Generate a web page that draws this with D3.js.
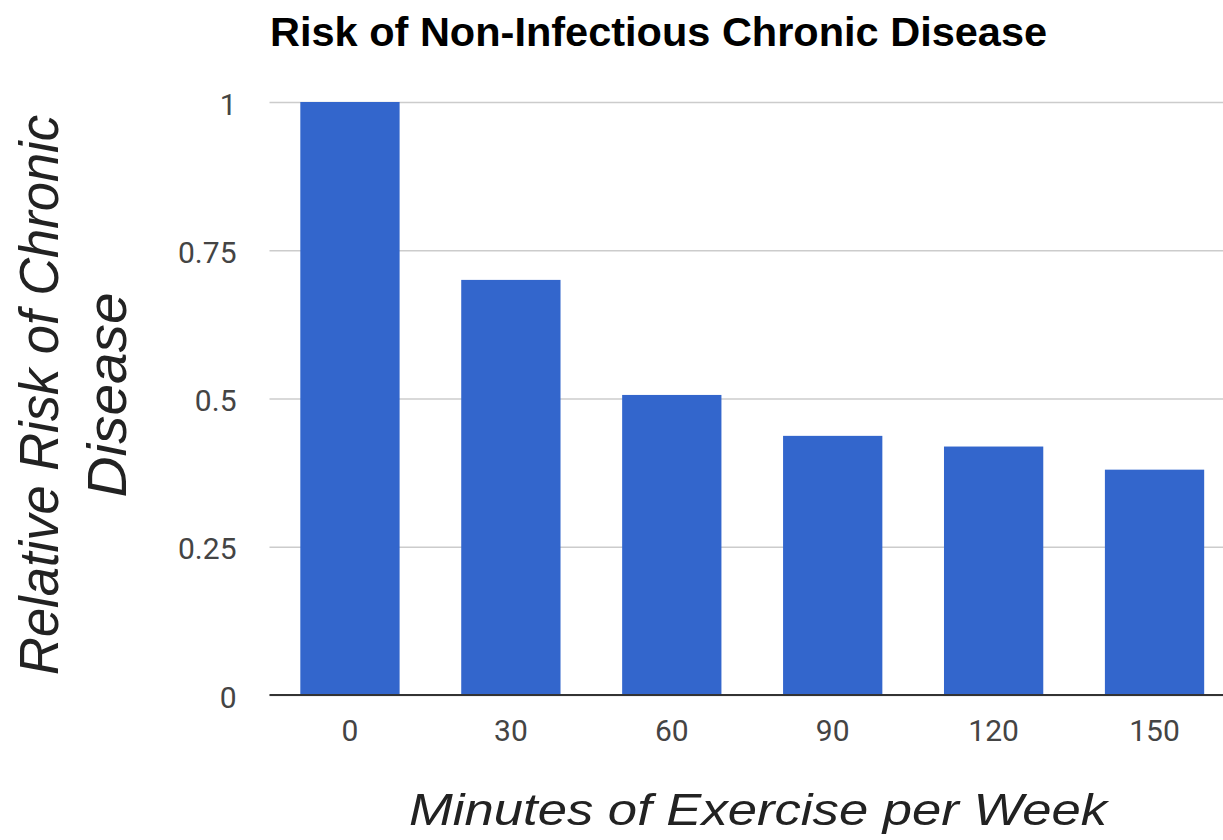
<!DOCTYPE html>
<html>
<head>
<meta charset="utf-8">
<script src="https://cdn.jsdelivr.net/npm/d3@7"></script>
<style>
  html, body { margin: 0; padding: 0; background: #fff; overflow: hidden; }
  svg { display: block; }
</style>
</head>
<body>
<svg id="chart" width="1223" height="840"></svg>
<script>
// Relative risk of chronic disease by weekly exercise minutes
const categories = ["0", "30", "60", "90", "120", "150"];
const riskValues = [1, 0.7, 0.506, 0.437, 0.419, 0.38];
const yTickValues = [0, 0.25, 0.5, 0.75, 1];
const yTickLabels = ["0", "0.25", "0.5", "0.75", "1"];

const chartTitle = "Risk of Non-Infectious Chronic Disease";
const xTitle = "Minutes of Exercise per Week";
const yTitleLines = ["Relative Risk of Chronic", "Disease"];
const yTitleLengths = [560, 205];

const svg = d3.select("#chart");
const W = 1223, H = 840;
const plot = { left: 269.5, right: 1235, top: 102, bottom: 695 };

const x = d3.scaleBand()
  .domain(categories)
  .range([plot.left, plot.right])
  .paddingInner(0.383)
  .paddingOuter(0.1915);

const y = d3.scaleLinear()
  .domain([0, 1])
  .range([plot.bottom, plot.top]);

// Horizontal gridlines with value labels
const yAxis = d3.axisLeft(y)
  .tickValues(yTickValues)
  .tickFormat((d, i) => yTickLabels[i])
  .tickSize(-(W - plot.left))
  .tickPadding(33);

const gy = svg.append("g")
  .attr("transform", `translate(${plot.left},0)`)
  .call(yAxis);
gy.select(".domain").remove();
gy.selectAll(".tick line")
  .attr("stroke", "#cccccc")
  .attr("stroke-width", 1.6);
gy.selectAll(".tick text")
  .attr("fill", "#444")
  .attr("dy", "0.4em")
  .style("font-family", "Roboto, sans-serif")
  .style("font-size", "30px");

// Bars
svg.append("g")
  .selectAll("rect")
  .data(riskValues)
  .join("rect")
  .attr("x", (d, i) => x(categories[i]))
  .attr("width", x.bandwidth())
  .attr("y", d => y(d))
  .attr("height", d => y(0) - y(d))
  .attr("fill", "#3366cc");

// Category axis along the baseline
const xAxis = d3.axisBottom(x).tickSize(0).tickPadding(24.7);
const gx = svg.append("g")
  .attr("transform", `translate(0,${plot.bottom})`)
  .call(xAxis);
gx.select(".domain").remove();
gx.selectAll(".tick text")
  .attr("fill", "#444")
  .style("font-family", "Roboto, sans-serif")
  .style("font-size", "30px");

svg.append("line")
  .attr("x1", plot.left).attr("x2", W)
  .attr("y1", y(0)).attr("y2", y(0))
  .attr("stroke", "#333")
  .attr("stroke-width", 2);

// Titles
svg.append("text")
  .attr("x", 270)
  .attr("y", 46)
  .attr("fill", "#000")
  .style("font-family", "'Liberation Sans', Arial, sans-serif")
  .style("font-weight", "bold")
  .style("font-size", "41.5px")
  .text(chartTitle);

svg.append("text")
  .attr("x", 758)
  .attr("y", 825)
  .attr("text-anchor", "middle")
  .attr("fill", "#222")
  .attr("textLength", 698)
  .attr("lengthAdjust", "spacingAndGlyphs")
  .style("font-family", "'Liberation Sans', Arial, sans-serif")
  .style("font-style", "italic")
  .style("font-size", "45px")
  .text(xTitle);

const yt = svg.append("text")
  .attr("transform", "translate(58,395) rotate(-90)")
  .attr("text-anchor", "middle")
  .attr("fill", "#222")
  .style("font-family", "'Liberation Sans', Arial, sans-serif")
  .style("font-style", "italic")
  .style("font-size", "55px");
yt.selectAll("tspan")
  .data(yTitleLines)
  .join("tspan")
  .attr("x", 0)
  .attr("dy", (d, i) => i === 0 ? 0 : 68)
  .attr("textLength", (d, i) => yTitleLengths[i])
  .attr("lengthAdjust", "spacingAndGlyphs")
  .text(d => d);
</script>
</body>
</html>
